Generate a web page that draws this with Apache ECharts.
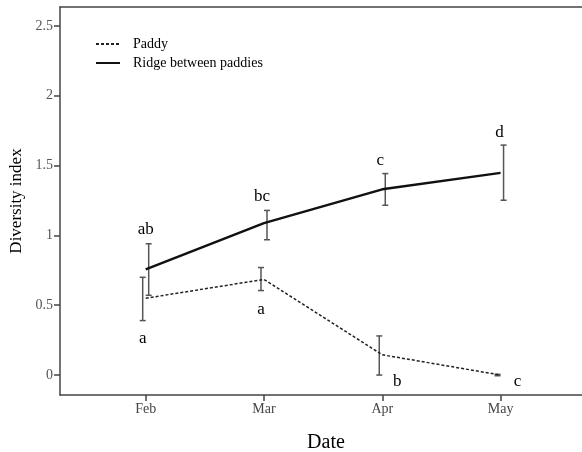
<!DOCTYPE html>
<html>
<head>
<meta charset="utf-8">
<script src="https://cdn.jsdelivr.net/npm/echarts@6/dist/echarts.min.js"></script>
<style>html,body{margin:0;padding:0;background:#fff}#c{width:582px;height:452px}</style>
</head>
<body>
<div id="c"></div>
<script>
// ---- data ----
var months = ['Feb', 'Mar', 'Apr', 'May'];
var paddyMean = [0.55, 0.685, 0.145, 0.0];
var paddyLow  = [0.39, 0.605, 0.0, -0.005];
var paddyHigh = [0.70, 0.77, 0.28, 0.005];
var ridgeMean = [0.757, 1.088, 1.33, 1.448];
var ridgeLow  = [0.571, 0.969, 1.216, 1.252];
var ridgeHigh = [0.94, 1.179, 1.443, 1.647];
var paddyLetters = ['a', 'a', 'b', 'c'];
var ridgeLetters = ['ab', 'bc', 'c', 'd'];
var yTicks = [0, 0.5, 1, 1.5, 2, 2.5];
var yTickLabels = ['0', '0.5', '1', '1.5', '2', '2.5'];

// ---- style (pixel offsets) ----
var paddyLetterOffset = [[-3, 18], [-3, 19], [15, 6], [17, 6]]; // relative to error low (paddy)
var ridgeLetterOffset = [[0, -14], [-2, -14], [-2, -13], [-1, -13]]; // relative to error high
var serif = '"Liberation Serif", "Times New Roman", serif';

function pts(vals) { return vals.map(function (v, i) { return [i + 1, v]; }); }
function errData(lo, hi) { return lo.map(function (v, i) { return [i + 1, v, hi[i]]; }); }

function errRender(dx) {
  return function (params, api) {
    var x = api.value(0);
    var lo = api.coord([x, api.value(1)]);
    var hi = api.coord([x, api.value(2)]);
    var cx = lo[0] + dx, w = 3;
    var st = { stroke: '#555', lineWidth: 1.5 };
    return {
      type: 'group',
      children: [
        { type: 'line', shape: { x1: cx, y1: hi[1], x2: cx, y2: lo[1] }, style: st },
        { type: 'line', shape: { x1: cx - w, y1: hi[1], x2: cx + w, y2: hi[1] }, style: st },
        { type: 'line', shape: { x1: cx - w, y1: lo[1], x2: cx + w, y2: lo[1] }, style: st }
      ]
    };
  };
}

function letterRender(letters, offsets) {
  return function (params, api) {
    var i = params.dataIndex;
    var p = api.coord([api.value(0), api.value(1)]);
    var o = offsets[i];
    return {
      type: 'text',
      x: p[0] + o[0], y: p[1] + o[1],
      style: { text: letters[i], fill: '#000', font: '17px ' + serif, align: 'center', verticalAlign: 'middle' }
    };
  };
}

var chart = echarts.init(document.getElementById('c'));
chart.setOption({
  animation: false,
  grid: { left: 60, right: -10, top: 7, bottom: 57, containLabel: false, outerBoundsMode: 'none' },
  legend: {
    left: 95, top: 37, orient: 'vertical', itemWidth: 24, itemHeight: 14, itemGap: 5, padding: 0,
    data: ['Paddy', 'Ridge between paddies'],
    itemStyle: { opacity: 0 },
    textStyle: { fontFamily: serif, fontSize: 14, color: '#000', padding: [0, 0, 0, 8] }
  },
  xAxis: [{
    type: 'value', min: 0.2755, max: 4.773,
    name: 'Date', nameLocation: 'middle', nameGap: 38,
    nameTextStyle: { fontFamily: serif, fontSize: 20, color: '#000' },
    splitLine: { show: false },
    axisLine: { onZero: false, lineStyle: { color: '#444', width: 1.5 } },
    axisTick: { customValues: [1, 2, 3, 4], length: 6, lineStyle: { color: '#444', width: 1.5 } },
    axisLabel: {
      customValues: [1, 2, 3, 4], margin: 7,
      formatter: function (v) { return months[Math.round(v) - 1] || ''; },
      fontFamily: serif, fontSize: 14, color: '#444'
    }
  }, {
    type: 'value', position: 'top', min: 0.2755, max: 4.773,
    splitLine: { show: false }, axisTick: { show: false }, axisLabel: { show: false },
    axisLine: { show: true, onZero: false, lineStyle: { color: '#444', width: 1.5 } }
  }],
  yAxis: {
    type: 'value', min: -0.143, max: 2.636,
    name: 'Diversity index', nameLocation: 'middle', nameGap: 34,
    nameTextStyle: { fontFamily: serif, fontSize: 17, color: '#000' },
    splitLine: { show: false },
    axisLine: { show: true, onZero: false, lineStyle: { color: '#444', width: 1.5 } },
    axisTick: { show: true, customValues: yTicks, length: 6, lineStyle: { color: '#444', width: 1.5 } },
    axisLabel: {
      customValues: yTicks, margin: 7,
      formatter: function (v) { var i = yTicks.indexOf(+v.toFixed(2)); return i >= 0 ? yTickLabels[i] : ''; },
      fontFamily: serif, fontSize: 14, color: '#555'
    }
  },
  series: [
    {
      name: 'Paddy', type: 'line', data: pts(paddyMean), symbol: 'none',
      lineStyle: { color: '#222', width: 1.5, type: [3, 2] }, itemStyle: { color: '#222' }, z: 3
    },
    {
      name: 'Ridge between paddies', type: 'line', data: pts(ridgeMean), symbol: 'none',
      lineStyle: { color: '#111', width: 2.5, type: 'solid' }, itemStyle: { color: '#111' }, z: 3
    },
    { type: 'custom', data: errData(paddyLow, paddyHigh), renderItem: errRender(-3), z: 2 },
    { type: 'custom', data: errData(ridgeLow, ridgeHigh), renderItem: errRender(3), z: 2 },
    { type: 'custom', data: pts(paddyLow), renderItem: letterRender(paddyLetters, paddyLetterOffset), z: 4 },
    { type: 'custom', data: pts(ridgeHigh), renderItem: letterRender(ridgeLetters, ridgeLetterOffset), z: 4 }
  ]
});
</script>
</body>
</html>
